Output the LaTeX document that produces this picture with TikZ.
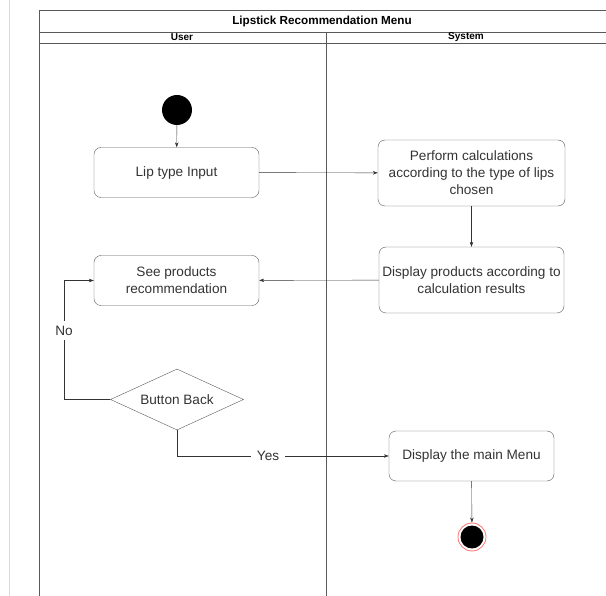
\documentclass[tikz,border=0pt]{standalone}
\usepackage{fontspec}
\setmainfont{Liberation Sans}
\usetikzlibrary{shapes.geometric,arrows.meta}
\begin{document}
\begin{tikzpicture}[x=1pt,y=-1pt,
    act/.style={shape=rectangle,rounded corners=7pt,draw=black!65,text=black!80,align=center,inner sep=1pt,font=\fontsize{13.6}{17}\selectfont},
    lane/.style={draw=black!65,line width=0.6pt},
    lbl/.style={fill=white,text=black!80,inner xsep=6pt,inner ysep=2pt,font=\fontsize{13.6}{16}\selectfont},
    >={Stealth[length=5pt,width=3.5pt]}]
    \useasboundingbox (0,0) rectangle (606,596);
    % swimlane frame
    \draw[black!15] (9.5,0) -- (9.5,596);
    \draw[lane] (39,596) -- (39,10) -- (607,10);
    \draw[lane] (39,32) -- (607,32);
    \draw[lane] (39,43) -- (607,43);
    \draw[lane] (326,32) -- (326,596);
    \node[font=\bfseries\fontsize{11.7}{13}\selectfont] (title) at (322,21) {Lipstick Recommendation Menu};
    \node[font=\bfseries\fontsize{10}{11}\selectfont,inner sep=0pt] (user) at (182,37.5) {User};
    \node[font=\bfseries\fontsize{10}{11}\selectfont,inner sep=0pt] (system) at (466,37.5) {System};
    % activities
    \node[shape=circle,fill=black,minimum size=30pt,inner sep=0pt] (start) at (177,110) {};
    \node[act,minimum width=165pt,minimum height=50pt] (lip) at (176.5,172.5) {Lip type Input};
    \node[act,minimum width=187pt,minimum height=66pt] (perf) at (471.5,173) {Perform calculations\\according to the type of lips\\chosen};
    \node[act,minimum width=185pt,minimum height=66pt] (disp) at (471.5,280) {Display products according to\\calculation results};
    \node[act,minimum width=165pt,minimum height=50pt] (see) at (176.5,280.5) {See products\\recommendation};
    \node[shape=diamond,aspect=2.2,draw=black!65,text=black!80,minimum width=133pt,minimum height=61pt,inner sep=0pt,font=\fontsize{13.6}{16}\selectfont] (back) at (177,399.5) {Button Back};
    \node[act,minimum width=165pt,minimum height=50pt] (menu) at (471.5,456) {Display the main Menu};
    \node[shape=circle,draw=red!55,fill=white,line width=0.8pt,minimum size=28pt,inner sep=0pt] (end) at (472,537) {};
    \node[shape=circle,fill=black,minimum size=23pt,inner sep=0pt] (endin) at (472,537) {};
    \coordinate (noturn) at (64,399.5);
    \coordinate (yesturn) at (177,456);
    % flows
    \path [->] (start) edge[black!80] (lip);
    \path [->] (lip) edge[black!80] (perf);
    \path [->] (perf) edge[black!80] (disp);
    \path [->] (disp) edge[black!80] (see);
    \draw[->,black!80] (back) -- (noturn) |- node[lbl,pos=0.29,inner xsep=2pt,inner ysep=5pt] {No} (see);
    \draw[->,black!80] (back) -- (yesturn) -- node[lbl,pos=0.43] {Yes} (menu);
    \path [->] (menu) edge[black!80] (end);
\end{tikzpicture}
\end{document}
